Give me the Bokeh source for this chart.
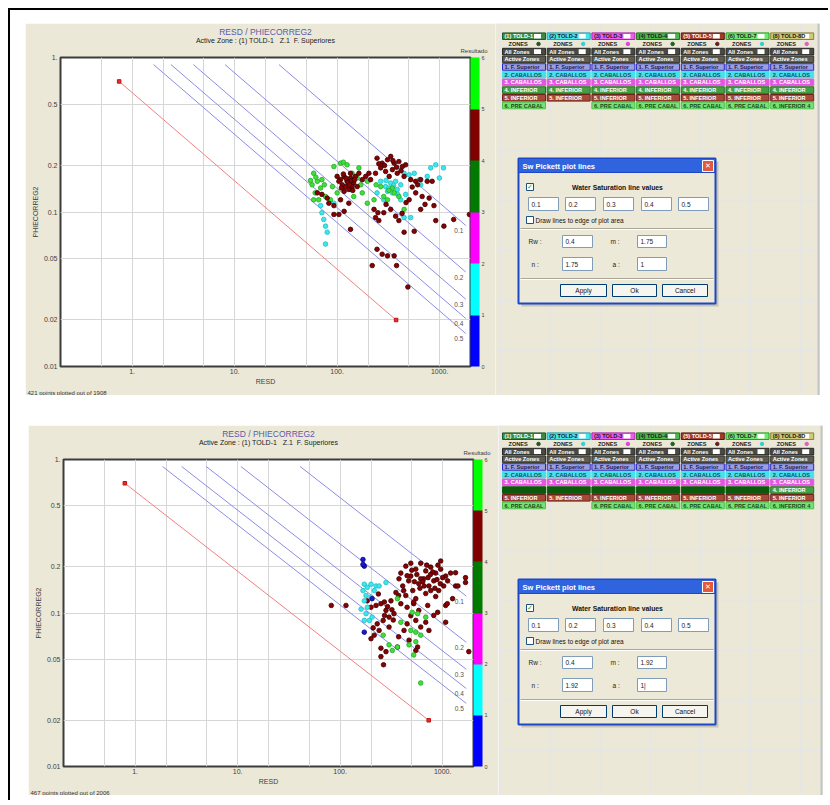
import math
from bokeh.plotting import figure
from bokeh.layouts import row, column
from bokeh.models import Range1d, FixedTicker, Title, ColorBar, LinearColorMapper, Spacer
from bokeh.core.properties import value
from bokeh.embed import file_html
from bokeh.resources import INLINE

FONT = "Liberation Sans"
BEIGE = "#ebe8d8"
NB = "\u00a0"

# ---------------- data ----------------
sw_values = [0.1, 0.2, 0.3, 0.4, 0.5]
top_params = {"rw": 0.4, "m": 1.75, "n": 1.75, "a": 1}
bot_params = {"rw": 0.4, "m": 1.92, "n": 1.92, "a": 1}
top_param_labels = {"rw": "0.4", "m": "1.75", "n": "1.75", "a": "1"}
bot_param_labels = {"rw": "0.4", "m": "1.92", "n": "1.92", "a": "1|"}
line_phi_top = 0.9
ro_phi = [0.7, 0.02]
top_rt_end = 1800
bot_rt_end = 1700

x_limits = [0.2, 2000]
y_limits = [0.01, 1]
x_ticks = [1, 10, 100, 1000]
x_tick_labels = ["1.", "10.", "100.", "1000."]
x_grid = [0.5, 1, 2, 5, 10, 20, 50, 100, 200, 500, 1000]
y_ticks = [0.01, 0.02, 0.05, 0.1, 0.2, 0.5, 1]
y_tick_labels = ["0.01", "0.02", "0.05", "0.1", "0.2", "0.5", "1."]
y_grid = [0.02, 0.05, 0.1, 0.2, 0.5]

result_palette = ["#0000ff", "#00ffff", "#ff00ff", "#007a00", "#800000", "#00ff00"]
result_ticks = [0, 1, 2, 3, 4, 5, 6]

wells = ["(1) TOLD-1", "(2) TOLD-2", "(3) TOLD-3", "(4) TOLD-4", "(5) TOLD-5", "(6) TOLD-7", "(8) TOLD-8D"]
zones = ["All Zones", "Active Zones", "1. F. Superior", "2. CABALLOS", "3. CABALLOS",
         "4. INFERIOR", "5. INFERIOR", "6. PRE CABAL"]

# top plot points (RESD, PHIECORREG2)
top_red_resd = [100, 108, 117, 125, 135, 145, 121, 130, 140, 151, 163, 112, 104, 135, 117, 157, 176, 190, 204, 212,
                128, 138, 110, 148, 122, 132, 142, 115,
                64, 71, 80, 83, 93, 104, 117, 130, 135, 108, 93,
                245, 275, 310, 333, 360, 400, 433, 466, 266, 297, 346, 386, 237, 322, 522, 584, 653, 757, 845,
                290, 380, 420, 255, 350, 450, 610, 540,
                229, 237, 255, 285, 333, 372, 400, 450, 565, 504, 584, 675, 790, 880, 653, 916, 1100, 1370, 1950,
                245, 275, 310, 360, 220, 380, 490, 300, 430, 250, 470, 720]
top_red_phi = [0.170, 0.162, 0.170, 0.158, 0.166, 0.154, 0.146, 0.140, 0.146, 0.170, 0.178, 0.150, 0.158, 0.178, 0.136, 0.146, 0.162, 0.170, 0.178, 0.162,
               0.155, 0.160, 0.143, 0.162, 0.165, 0.150, 0.138, 0.176,
               0.133, 0.130, 0.123, 0.114, 0.110, 0.0964, 0.101, 0.114, 0.0772, 0.120, 0.0964,
               0.223, 0.207, 0.218, 0.229, 0.207, 0.212, 0.197, 0.202, 0.193, 0.183, 0.188, 0.178, 0.178, 0.170, 0.162, 0.158, 0.162, 0.158, 0.158,
               0.200, 0.195, 0.185, 0.205, 0.215, 0.170, 0.150, 0.145,
               0.104, 0.092, 0.088, 0.099, 0.104, 0.094, 0.088, 0.074, 0.075, 0.120, 0.133, 0.126, 0.123, 0.110, 0.104, 0.088, 0.081, 0.0895, 0.0964,
               0.0574, 0.0533, 0.052, 0.052, 0.045, 0.045, 0.0327, 0.112, 0.098, 0.099, 0.115, 0.112]
top_green_resd = [59, 64, 57, 69, 61, 77, 59, 90, 93, 108, 125, 140, 157, 176, 145, 197, 197, 266, 285, 346, 400, 450,
                  100, 86, 163, 71, 229, 360, 310, 135, 62, 55, 66, 75, 115, 170, 320, 240]
top_green_phi = [0.178, 0.158, 0.150, 0.143, 0.133, 0.126, 0.120, 0.146, 0.197, 0.207, 0.202, 0.178, 0.166, 0.133, 0.126, 0.158, 0.114, 0.146, 0.126, 0.143, 0.126, 0.104,
                 0.133, 0.120, 0.193, 0.162, 0.120, 0.133, 0.120, 0.140, 0.168, 0.160, 0.120, 0.150, 0.210, 0.150, 0.138, 0.150]
top_cyan_resd = [69, 71, 74, 77, 77, 80, 93, 266, 297, 333, 372, 310, 346, 386, 417, 450, 504, 565, 632, 653, 417, 466,
                 522, 450, 818, 916, 1090, 995, 757, 285, 245, 320, 355, 300, 390]
top_cyan_phi = [0.110, 0.099, 0.0895, 0.081, 0.062, 0.074, 0.114, 0.158, 0.146, 0.154, 0.158, 0.136, 0.133, 0.140, 0.150, 0.178, 0.174, 0.178, 0.162, 0.150, 0.120, 0.130,
                0.092, 0.092, 0.193, 0.202, 0.193, 0.166, 0.170, 0.120, 0.133, 0.143, 0.148, 0.160, 0.130]

# bottom plot points
bot_red_resd = [391, 437, 489, 547, 611, 684, 765, 855, 957, 1070, 408, 466, 511, 585, 652, 735, 819, 915, 1024, 1118,
                437, 547, 684, 855, 489, 611, 765, 957, 375, 417, 1196, 1337, 1250, 522, 715, 585, 1070, 894, 819,
                560, 640, 720, 800, 880, 500, 600, 700, 900, 1000, 450, 530, 660, 760, 840, 950,
                1337, 1672, 1672, 1410, 1110, 1070, 1800,
                313, 280, 263, 300, 335, 240, 215, 200, 250, 265, 250, 362, 420, 450, 489, 547, 611, 684, 735, 570, 547,
                391, 450, 522, 250, 224, 200, 372, 350, 271, 300, 372, 470, 82, 114, 184, 236, 280,
                290, 320, 270, 230, 210, 330]
bot_red_phi = [0.182, 0.202, 0.174, 0.193, 0.211, 0.188, 0.199, 0.182, 0.193, 0.174, 0.150, 0.162, 0.140, 0.155, 0.167, 0.150, 0.162, 0.140, 0.150, 0.162,
               0.130, 0.124, 0.134, 0.128, 0.211, 0.167, 0.140, 0.218, 0.167, 0.140, 0.182, 0.150, 0.124, 0.115, 0.112, 0.104, 0.112, 0.101, 0.0964,
               0.178, 0.160, 0.170, 0.185, 0.165, 0.190, 0.145, 0.205, 0.205, 0.170, 0.175, 0.160, 0.150, 0.178, 0.145, 0.155,
               0.183, 0.170, 0.158, 0.150, 0.115, 0.087, 0.056,
               0.120, 0.104, 0.0895, 0.094, 0.099, 0.077, 0.0717, 0.068, 0.059, 0.046, 0.052, 0.060, 0.077, 0.085, 0.096, 0.0895, 0.081, 0.087, 0.077, 0.060, 0.057,
               0.115, 0.109, 0.118, 0.115, 0.112, 0.109, 0.130, 0.136, 0.0964, 0.081, 0.0700, 0.0665, 0.112, 0.112, 0.120, 0.133, 0.056,
               0.110, 0.105, 0.118, 0.085, 0.080, 0.090]
bot_cyan_resd = [172, 184, 200, 224, 167, 179, 200, 215, 172, 184, 179, 172, 193, 205, 240, 280, 160]
bot_cyan_phi = [0.154, 0.147, 0.154, 0.150, 0.140, 0.130, 0.127, 0.140, 0.120, 0.109, 0.099, 0.0895, 0.0895, 0.094, 0.150, 0.158, 0.106]
bot_blue_resd = [167, 172, 167, 172, 205]
bot_blue_phi = [0.223, 0.202, 0.207, 0.075, 0.124]
bot_green_resd = [362, 505, 570, 684, 391, 489, 547, 611, 547, 470, 362, 323, 263, 522, 300, 611]
bot_green_phi = [0.124, 0.101, 0.099, 0.094, 0.087, 0.077, 0.075, 0.0717, 0.065, 0.062, 0.060, 0.057, 0.0717, 0.0533, 0.062, 0.035]

point_styles = {
    "red": ("#8b0000", "#3a0000"),
    "green": ("#3ee03e", "#22a822"),
    "cyan": ("#3ee6ee", "#20bcc4"),
    "blue": ("#1a1ad0", "#000080"),
}


def scatter_panel(h, min_top, params, series, footer, rt_end):
    p = figure(width=470, height=h, x_axis_type="log", y_axis_type="log",
               x_range=Range1d(x_limits[0], x_limits[1]), y_range=Range1d(y_limits[0], y_limits[1]),
               output_backend="svg", toolbar_location=None, title=None, frame_align=False,
               min_border_left=35, min_border_right=25, min_border_top=min_top, min_border_bottom=27)
    p.border_fill_color = BEIGE
    p.background_fill_color = "white"
    p.outline_line_color = "#3c3c3c"
    p.outline_line_width = 2

    p.xaxis.ticker = FixedTicker(ticks=x_ticks)
    p.xaxis.major_label_overrides = {t: l for t, l in zip(x_ticks, x_tick_labels)}
    p.yaxis.ticker = FixedTicker(ticks=y_ticks)
    p.yaxis.major_label_overrides = {t: l for t, l in zip(y_ticks, y_tick_labels)}
    p.xgrid.ticker = FixedTicker(ticks=x_grid)
    p.ygrid.ticker = FixedTicker(ticks=y_grid)
    p.grid.grid_line_color = "#d6d6d6"
    p.grid.grid_line_width = 1
    for ax in (p.xaxis[0], p.yaxis[0]):
        ax.axis_line_color = None
        ax.major_tick_line_color = None
        ax.minor_tick_line_color = None
        ax.major_tick_out = 0
        ax.minor_tick_out = 0
        ax.major_label_text_font = FONT
        ax.major_label_text_font_size = "7px"
        ax.major_label_text_color = "#404040"
        ax.axis_label_text_font = FONT
        ax.axis_label_text_font_size = "7px"
        ax.axis_label_text_font_style = "normal"
        ax.axis_label_text_color = "#404040"
        ax.major_label_standoff = 3
        ax.axis_label_standoff = 2
    p.xaxis.major_label_standoff = 2
    p.xaxis.axis_label_standoff = 1
    p.xaxis.axis_label = "RESD"
    p.yaxis.axis_label = "PHIECORREG2"

    # titles (closest to frame first)
    p.add_layout(Title(text="Resultado", align="right", offset=-17, standoff=8, text_font=FONT,
                       text_font_size="6px", text_font_style="normal", text_color="#404040"), "above")
    p.add_layout(Title(text=f"Active Zone : (1) TOLD-1{NB*3}Z.1{NB*2}F. Superiores", align="center",
                       standoff=-5, text_font=FONT, text_font_size="7px", text_font_style="normal",
                       text_color="#202020"), "above")
    p.add_layout(Title(text="RESD / PHIECORREG2", align="center", standoff=2, text_font=FONT,
                       text_font_size="8.5px", text_font_style="normal", text_color="#5a5aa8"), "above")
    p.add_layout(Title(text=footer, align="left", offset=-33, standoff=0, text_font=FONT,
                       text_font_size="6px", text_font_style="normal", text_color="#303030"), "below")

    rw, m, n, a = params["rw"], params["m"], params["n"], params["a"]
    # Sw lines (Archie / Pickett)
    xs, ys, ex, ey, lab = [], [], [], [], []
    for sw in sw_values:
        rt0 = a * rw / (line_phi_top ** m * sw ** n)
        phi1 = (a * rw / (rt_end * sw ** n)) ** (1.0 / m)
        xs.append([rt0, rt_end])
        ys.append([line_phi_top, phi1])
        ex.append(rt_end)
        ey.append(phi1)
        lab.append(f"{sw:g}")
    p.multi_line(xs, ys, line_color="#8c8ce6", line_width=1)
    p.text(x=ex, y=ey, text=lab, x_offset=-7, y_offset=5, text_align="center", text_baseline="middle",
           text_font=value(FONT), text_font_size=value("6.5px"), text_color="#505050")
    # Ro line (Sw = 1)
    ro_rt = [a * rw / (ph ** m) for ph in ro_phi]
    p.line(ro_rt, ro_phi, line_color="#f08080", line_width=1)
    p.scatter(ro_rt, ro_phi, marker="square", size=3.5, fill_color="#e83030", line_color="#c01010")

    for key, xv, yv in series:
        fc, lc = point_styles[key]
        p.scatter(xv, yv, marker="circle", size=4.6, fill_color=fc, line_color=lc, line_width=0.8)

    cmap = LinearColorMapper(palette=result_palette, low=0, high=6)
    cb = ColorBar(color_mapper=cmap, ticker=FixedTicker(ticks=result_ticks), width=9, padding=0, margin=0,
                  label_standoff=2, major_label_text_font=FONT, major_label_text_font_size="5.5px",
                  major_label_text_color="#404040", major_tick_line_color=None, bar_line_color=None,
                  border_line_color=None, background_fill_alpha=0)
    p.add_layout(cb, "right")
    return p


def right_panel(x0, x1, y0, y1, table_top, dialog_top, plabels, dark_band):
    r = figure(width=int(x1 - x0), height=int(y1 - y0), x_range=Range1d(x0, x1), y_range=Range1d(y1, y0),
               output_backend="svg", toolbar_location=None, title=None, frame_align=False,
               x_axis_location=None, y_axis_location=None, min_border=0)
    r.outline_line_color = None
    r.background_fill_color = BEIGE
    r.border_fill_color = BEIGE
    tf = value(FONT)

    # window edge shadow
    r.segment(x0=[x1 - 2], y0=[y0], x1=[x1 - 2], y1=[y1], line_color="#c4c4c4", line_width=2)

    col_x = [502 + 44.7 * i for i in range(7)]
    cw, ch = 43, 6.6
    row_y = [table_top + 7.7 * j for j in range(10)]

    L, R, T, B, F, LC = [], [], [], [], [], []
    tx, ty, tt, tc = [], [], [], []
    wx, wy = [], []  # white boxes

    well_fill = ["#3c8a44", "#48e4ee", "#ee5cee", "#4cb84c", "#9c3c2c", "#6ee86e", "#cfc874"]
    well_line = ["#1e5a24", "#20a0b0", "#b020b0", "#1c701c", "#5a1a10", "#2aa02a", "#8a8430"]
    well_txt = ["white", "#1a1a1a", "#1a1a1a", "#1a1a1a", "white", "#1a1a1a", "#1a1a1a"]
    dot_col = ["#2d4d2d", "#30d0e0", "#e040e0", "#1e601e", "#602020", "#30d0d0", "#e060c0"]

    def cell(i, j, fill, line, text, tcol):
        cx, cy = col_x[i], row_y[j]
        L.append(cx); R.append(cx + cw); T.append(cy - ch / 2); B.append(cy + ch / 2)
        F.append(fill); LC.append(line)
        tx.append(cx + 2); ty.append(cy); tt.append(text); tc.append(tcol)

    for i in range(7):
        cell(i, 0, well_fill[i], well_line[i], wells[i], well_txt[i])
        wx.append(col_x[i] + cw - 8); wy.append(row_y[0])
    for i in range(7):
        cell(i, 2, "#4a4a44", "#2a2a26", zones[0], "white")
        wx.append(col_x[i] + cw - 8); wy.append(row_y[2])
        cell(i, 3, "#5e5c52", "#34342e", zones[1], "white")
        cell(i, 4, "#9aa0dc", "#2626c8", zones[2], "#1a1a50")
        cell(i, 5, "#46e2ea", "#46e2ea", zones[3], "#1a4a5a")
        cell(i, 6, "#e456e0", "#e456e0", zones[4], "white")
        if dark_band and i < 6:
            cell(i, 7, "#0b5a0b", "#0b5a0b", zones[5], "#0b5a0b")
        else:
            cell(i, 7, "#45a045", "#2a702a", zones[5], "white")
        cell(i, 8, "#a64a3a", "#6a2418", zones[6], "white")
        if i == 1:
            continue
        cell(i, 9, "#76e276", "#4cc04c", zones[7] if i < 6 else "6. INFERIOR 4", "#1a4a1a")

    r.quad(left=L, right=R, top=T, bottom=B, fill_color=F, line_color=LC, line_width=1)
    r.rect(x=wx, y=wy, width=7, height=4.6, fill_color="white", line_color=None)
    r.text(x=tx, y=ty, text=tt, text_color=tc, text_align="left", text_baseline="middle",
           text_font=tf, text_font_size=value("5.6px"), text_font_style="bold")
    # ZONES row
    r.text(x=[c + 6 for c in col_x], y=[row_y[1]] * 7, text=["ZONES"] * 7, text_align="left",
           text_baseline="middle", text_font=tf, text_font_size=value("5.6px"), text_font_style="bold",
           text_color="#1a1a1a")
    r.scatter(x=[c + 36 for c in col_x], y=[row_y[1]] * 7, size=3.5, color=dot_col)

    # ---------- dialog ----------
    D = dialog_top
    dl, dr = 518, 715
    r.quad(left=[dl + 3], right=[dr + 3], top=[D + 3], bottom=[D + 148], fill_color="#c8c4b4", line_color=None)
    r.quad(left=[dl], right=[dr], top=[D], bottom=[D + 145], fill_color="#ece9d8", line_color="#1c48c8",
           line_width=2)
    r.quad(left=[dl], right=[dr], top=[D], bottom=[D + 14], fill_color="#2f64de", line_color="#1c48c8")
    r.text(x=[dl + 4], y=[D + 7.5], text=["Sw Pickett plot lines"], text_color="white", text_baseline="middle",
           text_font=tf, text_font_size=value("7.5px"), text_font_style="bold")
    r.quad(left=[702], right=[713], top=[D + 2], bottom=[D + 13], fill_color="#e35a3a", line_color="white")
    r.text(x=[707.5], y=[D + 7.8], text=["\u2715"], text_color="white", text_align="center",
           text_baseline="middle", text_font=value("DejaVu Sans"), text_font_size=value("7px"),
           text_font_style="bold")
    # check boxes
    r.quad(left=[526, 526], right=[533, 533], top=[D + 25, D + 58], bottom=[D + 32, D + 65],
           fill_color="white", line_color="#1c5180")
    r.text(x=[529.5], y=[D + 28.5], text=["\u2713"], text_color="#21a121", text_align="center",
           text_baseline="middle", text_font=value("DejaVu Sans"), text_font_size=value("7px"))
    r.text(x=[617], y=[D + 29], text=["Water Saturation line values"], text_align="center",
           text_baseline="middle", text_font=tf, text_font_size=value("6.8px"), text_font_style="bold",
           text_color="#111111")
    r.text(x=[535], y=[D + 62], text=["Draw lines to edge of plot area"], text_align="left",
           text_baseline="middle", text_font=tf, text_font_size=value("6.5px"), text_color="#111111")
    # value boxes
    bl = [528, 565, 603, 641, 678]
    r.quad(left=bl, right=[b + 30 for b in bl], top=[D + 39] * 5, bottom=[D + 52] * 5,
           fill_color="white", line_color="#7f9db9")
    r.text(x=[b + 3 for b in bl], y=[D + 45.5] * 5, text=[f"{s:g}" for s in sw_values], text_align="left",
           text_baseline="middle", text_font=tf, text_font_size=value("6.5px"), text_color="#222222")
    # separators
    for yy in (D + 70, D + 120):
        r.segment(x0=[dl + 2], y0=[yy], x1=[dr - 2], y1=[yy], line_color="#aca899", line_width=1)
        r.segment(x0=[dl + 2], y0=[yy + 1], x1=[dr - 2], y1=[yy + 1], line_color="white", line_width=1)
    # parameter boxes
    r.quad(left=[562, 637, 562, 637], right=[592, 666, 592, 666], top=[D + 77, D + 77, D + 99, D + 99],
           bottom=[D + 89, D + 89, D + 112, D + 112], fill_color="white", line_color="#7f9db9")
    r.text(x=[565, 640, 565, 640], y=[D + 83, D + 83, D + 105.5, D + 105.5],
           text=[plabels["rw"], plabels["m"], plabels["n"], plabels["a"]], text_align="left",
           text_baseline="middle", text_font=tf, text_font_size=value("6.5px"), text_color="#222222")
    r.text(x=[528, 610, 531, 612], y=[D + 83, D + 83, D + 105.5, D + 105.5],
           text=["Rw :", "m :", "n :", "a :"], text_align="left", text_baseline="middle",
           text_font=tf, text_font_size=value("6.5px"), text_color="#222222")
    # buttons
    btl, btr = [560, 612, 662], [606, 656, 707]
    r.quad(left=btl, right=btr, top=[D + 126] * 3, bottom=[D + 138] * 3, fill_color="#f6f5f0",
           line_color="#003c74", line_width=1)
    r.text(x=[(a + b) / 2 for a, b in zip(btl, btr)], y=[D + 132] * 3, text=["Apply", "Ok", "Cancel"],
           text_align="center", text_baseline="middle", text_font=tf, text_font_size=value("6.5px"),
           text_color="#111111")
    return r


p_top = scatter_panel(372, 34, top_params,
                      [("cyan", top_cyan_resd, top_cyan_phi), ("green", top_green_resd, top_green_phi),
                       ("red", top_red_resd, top_red_phi)],
                      "421 points plotted out of 1908", top_rt_end)
p_bot = scatter_panel(370, 32, bot_params,
                      [("red", bot_red_resd, bot_red_phi), ("cyan", bot_cyan_resd, bot_cyan_phi),
                       ("blue", bot_blue_resd, bot_blue_phi), ("green", bot_green_resd, bot_green_phi)],
                      "467 points plotted out of 2006", bot_rt_end)

r_top = right_panel(495, 820, 23, 395, 35.7, 158, top_param_labels, False)
r_bot = right_panel(498, 823, 425, 795, 435.7, 579, bot_param_labels, True)

top_row = row(Spacer(width=15, height=372), p_top, r_top)
bot_row = row(Spacer(width=18, height=370), p_bot, r_bot)
content = column(Spacer(width=10, height=13), top_row, Spacer(width=10, height=30), bot_row)
inner = column(Spacer(width=820, height=2, styles={"background-color": "black"}),
               row(Spacer(width=2, height=790, styles={"background-color": "black"}), content))
root = column(Spacer(width=10, height=8), row(Spacer(width=8, height=10), inner))

open("out.html", "w").write(file_html(root, INLINE))
